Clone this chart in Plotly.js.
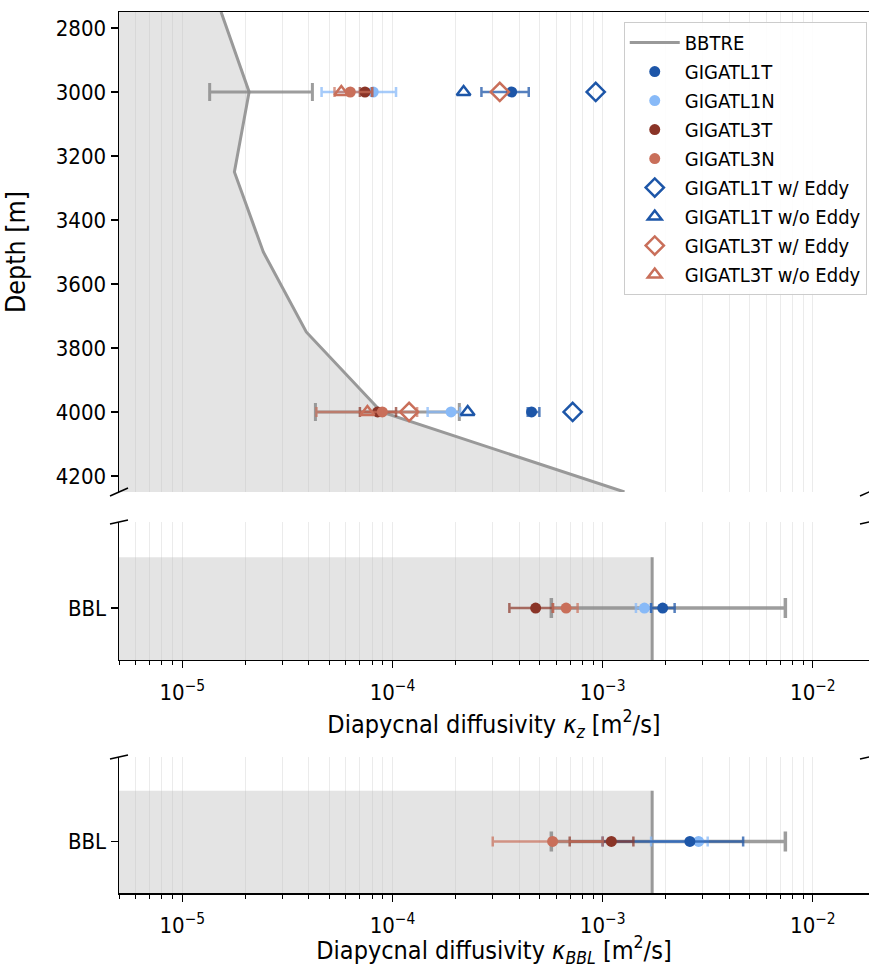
<!DOCTYPE html>
<html>
<head>
<meta charset="utf-8">
<script src="https://cdn.plot.ly/plotly-3.0.1.min.js"></script>
<style>html,body{margin:0;padding:0;background:#fff;}#chart{width:869px;height:968px;}</style>
</head>
<body>
<div id="chart"></div>
<script>
// ---------------- DATA ----------------
// BBTRE profile (depth [m], kappa_z [m^2/s])
const bbtreDepth = [2750, 3000, 3250, 3500, 3750, 4000, 4250];
const bbtreKz    = [1.53e-5, 2.08e-5, 1.77e-5, 2.43e-5, 3.89e-5, 8.87e-5, 1.27e-3];
// BBTRE error bars at model depths
const errDepth      = [3000, 4000];
const bbtreErrKz    = [2.08e-5, 8.87e-5];
const bbtreErrLow   = [1.35e-5, 4.3e-5];
const bbtreErrHigh  = [4.16e-5, 2.08e-4];

// Models at depths (3000, 4000)
const g1T_kz = [3.69e-4, 4.59e-4], g1T_lo = [2.65e-4, 4.4e-4],  g1T_hi = [4.45e-4, 5.0e-4];
const g1N_kz = [8.1e-5, 1.9e-4],   g1N_lo = [4.6e-5, 1.47e-4],  g1N_hi = [1.04e-4, 2.1e-4];
const g3T_kz = [7.4e-5, 8.5e-5],   g3T_lo = [7.0e-5, 7.0e-5],   g3T_hi = [8.0e-5, 1.04e-4];
const g3N_kz = [6.3e-5, 8.95e-5],  g3N_lo = [5.3e-5, 4.35e-5],  g3N_hi = [8.0e-5, 1.31e-4];
const g1T_eddy   = [9.27e-4, 7.2e-4];
const g1T_noeddy = [2.18e-4, 2.28e-4];
const g3T_eddy   = [3.24e-4, 1.2e-4];
const g3T_noeddy = [5.71e-5, 7.6e-5];

// BBL panel (kappa_z)
const bblBBTRE = 1.72e-3, bblBBTRE_lo = 5.7e-4, bblBBTRE_hi = 7.4e-3;
const bblKz    = {g1T: 1.93e-3, g1N: 1.58e-3, g3T: 4.8e-4, g3N: 6.7e-4};
const bblKz_lo = {g1T: 1.7e-3,  g1N: 1.44e-3, g3T: 3.6e-4, g3N: 5.8e-4};
const bblKz_hi = {g1T: 2.2e-3,  g1N: 1.7e-3,  g3T: 5.8e-4, g3N: 7.6e-4};
// BBL panel (kappa_BBL)
const bblKb    = {g1T: 2.6e-3,  g1N: 2.86e-3, g3T: 1.1e-3,  g3N: 5.78e-4};
const bblKb_lo = {g1T: 1.0e-3,  g1N: 1.7e-3,  g3T: 6.97e-4, g3N: 3.0e-4};
const bblKb_hi = {g1T: 4.66e-3, g1N: 3.16e-3, g3T: 1.4e-3,  g3N: 1.0e-3};

const depthTicks = [2800, 3000, 3200, 3400, 3600, 3800, 4000, 4200];
const xMajorVals = [1e-5, 1e-4, 1e-3, 1e-2];
const xMajorText = ['10<sup>−5</sup>', '10<sup>−4</sup>', '10<sup>−3</sup>', '10<sup>−2</sup>'];
const bblTickText = ['BBL'];

// ---------------- STYLE ----------------
const C = {
  g1T: '#1d56a8', g1N: '#88baf8', g3T: '#8a3427', g3N: '#c96f5a', gray: '#999999', shade: 'rgba(190,190,190,0.42)'
};
const E = {
  g1T: 'rgba(29,86,168,0.75)', g1N: 'rgba(136,186,248,0.75)', g3T: 'rgba(138,52,39,0.7)', g3N: 'rgba(201,111,90,0.7)', gray: 'rgba(140,140,140,0.85)'
};
const names = {g1T: 'GIGATL1T', g1N: 'GIGATL1N', g3T: 'GIGATL3T', g3N: 'GIGATL3N'};
const font = '"DejaVu Sans Condensed", "DejaVu Sans", sans-serif';
const xRange = [Math.log10(5e-6), Math.log10(1.85e-2)];
const farLeft = 1e-8;

const minorVals = [];
for (let e = -6; e <= -2; e++) for (let m = 2; m <= 9; m++) minorVals.push(m * Math.pow(10, e));

function errx(center, lo, hi, color, thick, w) {
  return {type: 'data', symmetric: false,
    array: center.map((c, i) => hi[i] - c),
    arrayminus: center.map((c, i) => c - lo[i]),
    color: color, thickness: thick, width: w};
}

const traces = [];
// ---- top panel ----
traces.push({x: [farLeft, farLeft].concat(bbtreKz.slice().reverse()),
  y: [bbtreDepth[0], bbtreDepth[bbtreDepth.length-1]].concat(bbtreDepth.slice().reverse()),
  fill: 'toself', fillcolor: C.shade, mode: 'none', showlegend: false, hoverinfo: 'skip', xaxis: 'x', yaxis: 'y'});
traces.push({x: bbtreKz, y: bbtreDepth, mode: 'lines', name: 'BBTRE', legendrank: 1, line: {color: C.gray, width: 3}, xaxis: 'x', yaxis: 'y'});
traces.push({x: bbtreErrKz, y: errDepth, mode: 'markers', marker: {size: 1, color: 'rgba(0,0,0,0)'}, showlegend: false,
  error_x: errx(bbtreErrKz, bbtreErrLow, bbtreErrHigh, E.gray, 3, 9), xaxis: 'x', yaxis: 'y'});

const topData = {g1T: [g1T_kz, g1T_lo, g1T_hi], g1N: [g1N_kz, g1N_lo, g1N_hi], g3T: [g3T_kz, g3T_lo, g3T_hi], g3N: [g3N_kz, g3N_lo, g3N_hi]};
const legendRank = {g1T: 2, g1N: 3, g3T: 4, g3N: 5};
['g1N', 'g1T', 'g3T', 'g3N'].forEach(k => {
  traces.push({x: topData[k][0], y: errDepth, mode: 'markers', name: names[k], legendgroup: k, legendrank: legendRank[k],
    marker: {size: 11, color: C[k]}, error_x: errx(topData[k][0], topData[k][1], topData[k][2], E[k], 2.5, 5), xaxis: 'x', yaxis: 'y'});
});
traces.push({x: g1T_eddy, y: errDepth, mode: 'markers', name: 'GIGATL1T w/ Eddy', legendrank: 6,
  marker: {symbol: 'diamond-open', size: 14, color: C.g1T, line: {width: 2.5}}, xaxis: 'x', yaxis: 'y'});
traces.push({x: g1T_noeddy, y: errDepth, mode: 'markers', name: 'GIGATL1T w/o Eddy', legendrank: 7,
  marker: {symbol: 'triangle-up-open', size: 12, color: C.g1T, line: {width: 2.5}}, xaxis: 'x', yaxis: 'y'});
traces.push({x: g3T_eddy, y: errDepth, mode: 'markers', name: 'GIGATL3T w/ Eddy', legendrank: 8,
  marker: {symbol: 'diamond-open', size: 14, color: C.g3N, line: {width: 2.5}}, xaxis: 'x', yaxis: 'y'});
traces.push({x: g3T_noeddy, y: errDepth, mode: 'markers', name: 'GIGATL3T w/o Eddy', legendrank: 9,
  marker: {symbol: 'triangle-up-open', size: 12, color: C.g3N, line: {width: 2.5}}, xaxis: 'x', yaxis: 'y'});

// ---- BBL panels ----
function bblPanel(xa, ya, vals, lo, hi) {
  traces.push({x: [farLeft, bblBBTRE, bblBBTRE, farLeft], y: [-5, -5, 1, 1], fill: 'toself', fillcolor: C.shade,
    mode: 'none', showlegend: false, hoverinfo: 'skip', xaxis: xa, yaxis: ya});
  traces.push({x: [bblBBTRE, bblBBTRE], y: [-5, 1], mode: 'lines', line: {color: C.gray, width: 3}, showlegend: false, xaxis: xa, yaxis: ya});
  traces.push({x: [bblBBTRE], y: [0], mode: 'markers', marker: {size: 1, color: 'rgba(0,0,0,0)'}, showlegend: false,
    error_x: errx([bblBBTRE], [bblBBTRE_lo], [bblBBTRE_hi], E.gray, 3.5, 10), xaxis: xa, yaxis: ya});
  ['g1N', 'g1T', 'g3T', 'g3N'].forEach(k => {
    traces.push({x: [vals[k]], y: [0], mode: 'markers', showlegend: false, marker: {size: 11, color: C[k]},
      error_x: errx([vals[k]], [lo[k]], [hi[k]], E[k], 2.5, 5), xaxis: xa, yaxis: ya});
  });
}
bblPanel('x2', 'y2', bblKz, bblKz_lo, bblKz_hi);
bblPanel('x3', 'y3', bblKb, bblKb_lo, bblKb_hi);

// ---------------- LAYOUT ----------------
const tickFont = {family: font, size: 22, color: '#000'};
const titleFont = {family: font, size: 25, color: '#000'};
const grid = '#ebebeb';
function xAxis(anchor, labels, titleText, standoff) {
  const a = {type: 'log', range: xRange, anchor: anchor, domain: [0, 1],
    tickvals: xMajorVals, ticktext: xMajorText, showgrid: true, gridcolor: grid, gridwidth: 1, zeroline: false,
    showline: true, linecolor: '#000', linewidth: 1.5, tickfont: tickFont, ticklen: 7, tickwidth: 1.3, tickcolor: '#000',
    ticklabelstandoff: 5,
    minor: {tickvals: minorVals, showgrid: true, gridcolor: grid, gridwidth: 1, ticks: 'outside', ticklen: 4, tickcolor: '#000', tickwidth: 1}};
  if (labels) {
    a.ticks = 'outside'; a.showticklabels = true;
    a.title = {text: titleText, font: titleFont, standoff: standoff};
  } else {
    a.ticks = ''; a.showticklabels = false; a.side = 'top'; a.minor.ticks = '';
  }
  return a;
}
const dTop = [0.4552, 1], dMid = [0.2645, 0.4211], dBot = [0, 0.1544];
const bblY = (dom, anchor, r) => ({domain: dom, anchor: anchor, range: r, tickvals: [0], ticktext: bblTickText,
  ticks: 'outside', ticklen: 7, tickwidth: 1.3, tickcolor: '#000', tickfont: tickFont, showline: true, linecolor: '#000', linewidth: 1.5,
  showgrid: false, zeroline: false});

function brk(xp, yp, dx, dy) {
  return {type: 'line', xref: 'paper', yref: 'paper', xsizemode: 'pixel', ysizemode: 'pixel', xanchor: xp, yanchor: yp,
    x0: -dx, x1: dx, y0: -dy, y1: dy, line: {color: '#000', width: 1.5}};
}

const layout = {
  width: 869, height: 968, margin: {l: 119, r: 0, t: 12, b: 75},
  paper_bgcolor: '#fff', plot_bgcolor: '#fff', font: {family: font, color: '#000'},
  xaxis: xAxis('y', false),
  yaxis: {domain: dTop, anchor: 'x', range: [4250, 2750], tickvals: depthTicks, ticks: 'outside', ticklen: 7, tickwidth: 1.3,
    tickcolor: '#000', tickfont: tickFont, showline: true, linecolor: '#000', linewidth: 1.5, showgrid: false, zeroline: false,
    title: {text: 'Depth [m]', font: {family: font, size: 26.5, color: '#000'}, standoff: 22}},
  xaxis2: xAxis('y2', true, 'Diapycnal diffusivity <i>κ<sub>z</sub></i> [m<sup>2</sup>/s]', 11),
  yaxis2: bblY(dMid, 'x2', [-1.02, 1.69]),
  xaxis3: xAxis('y3', true, 'Diapycnal diffusivity <i>κ<sub>BBL</sub></i> [m<sup>2</sup>/s]', 4),
  yaxis3: bblY(dBot, 'x3', [-1.02, 1.67]),
  showlegend: true,
  legend: {x: 0.997, y: 0.9886, xanchor: 'right', yanchor: 'top', bgcolor: 'rgba(255,255,255,0.9)', bordercolor: '#cccccc', borderwidth: 1,
    font: {family: font, size: 20, color: '#000'}, traceorder: 'normal', itemwidth: 50},
  shapes: [brk(0, dTop[0], 9, 4), brk(1, dTop[0], 9, 4), brk(0, dMid[1], 9, 2), brk(1, dMid[1], 9, 2), brk(0, dBot[1], 9, 2), brk(1, dBot[1], 9, 2)]
};

Plotly.newPlot('chart', traces, layout, {displayModeBar: false, staticPlot: true});
</script>
</body>
</html>
